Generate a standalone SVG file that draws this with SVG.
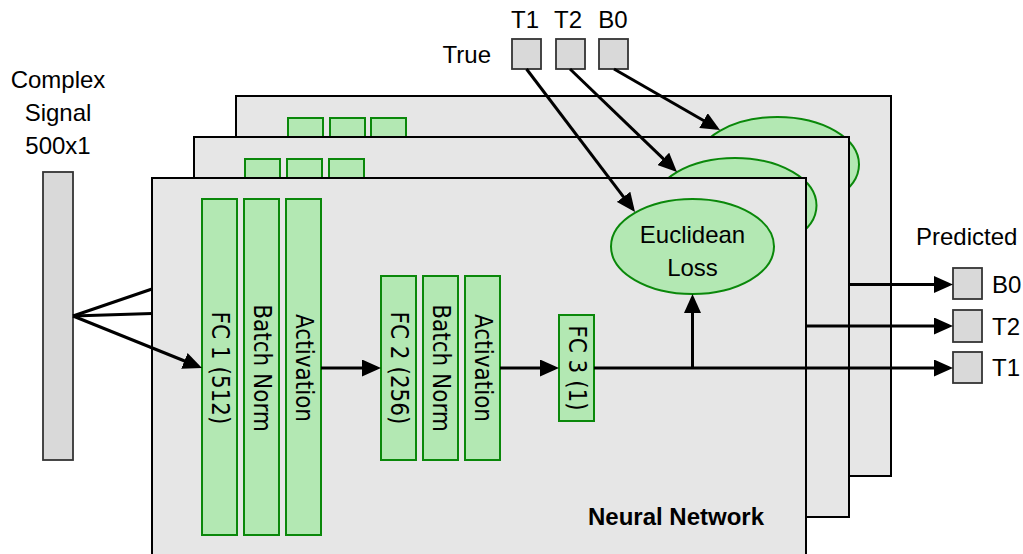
<svg xmlns="http://www.w3.org/2000/svg" width="1023" height="554" viewBox="0 0 1023 554">
<defs>
<style>
.panel{fill:#e6e6e6;stroke:#000;stroke-width:2}
.layer{fill:#b3e8b3;stroke:#0a880a;stroke-width:2}
.loss{fill:#b3e8b3;stroke:#0a880a;stroke-width:2}
.gbox{fill:#d9d9d9;stroke:#333;stroke-width:1.8}
.lbl{font-family:"Liberation Sans",Arial,sans-serif;font-size:24px;fill:#000}
.rot{font-family:"DejaVu Sans Condensed","DejaVu Sans",sans-serif;font-stretch:condensed;font-size:24px;fill:#000}
.bold{font-family:"Liberation Sans",Arial,sans-serif;font-size:24px;font-weight:bold;fill:#000}
.conn{fill:none;stroke:#000;stroke-width:3}
</style>
<marker id="arr" markerUnits="userSpaceOnUse" viewBox="0 0 19 17" markerWidth="19" markerHeight="17" refX="15" refY="8.5" orient="auto">
<path d="M0,0 L19,8.5 L0,17 Z" fill="#000"/>
</marker>
</defs>

<g id="signal">
<rect class="gbox" x="43" y="172" width="30" height="288"/>
<text class="lbl" text-anchor="middle" x="58" y="88">Complex</text>
<text class="lbl" text-anchor="middle" x="58" y="121">Signal</text>
<text class="lbl" text-anchor="middle" x="58" y="154">500x1</text>
</g>

<g id="true-labels">
<text class="lbl" text-anchor="end" x="491" y="63">True</text>
<text class="lbl" text-anchor="middle" x="525" y="28">T1</text>
<text class="lbl" text-anchor="middle" x="568" y="28">T2</text>
<text class="lbl" text-anchor="middle" x="613" y="28">B0</text>
</g>
<g id="true-T1"><rect class="gbox" x="512" y="39" width="29" height="30"/></g>
<g id="true-T2"><rect class="gbox" x="556" y="39" width="29" height="30"/></g>
<g id="true-B0"><rect class="gbox" x="599" y="39" width="29" height="30"/></g>

<g id="network-back">
<rect class="panel" x="236" y="96" width="655" height="380"/>
<rect class="layer" x="288" y="118" width="35" height="336"/>
<rect class="layer" x="330" y="118" width="35" height="336"/>
<rect class="layer" x="371" y="118" width="35" height="336"/>
<ellipse class="loss" cx="777.5" cy="164.5" rx="81.5" ry="47.5"/>
</g>

<g id="network-middle">
<rect class="panel" x="194" y="137" width="655" height="380"/>
<rect class="layer" x="245" y="159" width="35" height="336"/>
<rect class="layer" x="287" y="159" width="35" height="336"/>
<rect class="layer" x="329" y="159" width="35" height="336"/>
<ellipse class="loss" cx="735" cy="205.5" rx="81.5" ry="47.5"/>
</g>

<g id="network-front">
<rect class="panel" x="152" y="178" width="654" height="390"/>
<text class="bold" x="588" y="525">Neural Network</text>
</g>

<g id="fc1">
<rect class="layer" x="202" y="199" width="35" height="336"/>
<text class="rot" text-anchor="middle" dominant-baseline="central" transform="translate(220,368) rotate(90)">FC 1 (512)</text>
</g>
<g id="bn1">
<rect class="layer" x="244" y="199" width="35" height="336"/>
<text class="rot" text-anchor="middle" dominant-baseline="central" transform="translate(262,368) rotate(90)">Batch Norm</text>
</g>
<g id="act1">
<rect class="layer" x="286" y="199" width="35" height="336"/>
<text class="rot" text-anchor="middle" dominant-baseline="central" transform="translate(304,368) rotate(90)">Activation</text>
</g>
<g id="fc2">
<rect class="layer" x="381" y="276" width="35" height="184"/>
<text class="rot" text-anchor="middle" dominant-baseline="central" transform="translate(399,368) rotate(90)">FC 2 (256)</text>
</g>
<g id="bn2">
<rect class="layer" x="423" y="276" width="35" height="184"/>
<text class="rot" text-anchor="middle" dominant-baseline="central" transform="translate(441,368) rotate(90)">Batch Norm</text>
</g>
<g id="act2">
<rect class="layer" x="465" y="276" width="35" height="184"/>
<text class="rot" text-anchor="middle" dominant-baseline="central" transform="translate(483,368) rotate(90)">Activation</text>
</g>
<g id="fc3">
<rect class="layer" x="559" y="315" width="35" height="106"/>
<text class="rot" text-anchor="middle" dominant-baseline="central" transform="translate(577,368) rotate(90)">FC 3 (1)</text>
</g>
<g id="loss">
<ellipse class="loss" cx="692.5" cy="246.5" rx="81.5" ry="47.5"/>
<text class="lbl" text-anchor="middle" x="692.5" y="243">Euclidean</text>
<text class="lbl" text-anchor="middle" x="692.5" y="276">Loss</text>
</g>

<g id="predicted-labels">
<text class="lbl" x="916" y="245">Predicted</text>
<text class="lbl" x="992" y="293">B0</text>
<text class="lbl" x="992" y="335">T2</text>
<text class="lbl" x="992" y="376">T1</text>
</g>
<g id="pred-B0"><rect class="gbox" x="953" y="268" width="29" height="31"/></g>
<g id="pred-T2"><rect class="gbox" x="953" y="310" width="29" height="32"/></g>
<g id="pred-T1"><rect class="gbox" x="953" y="352" width="29" height="31"/></g>

<g id="connectors">
<line class="conn" x1="73" y1="316" x2="152" y2="289"/>
<line class="conn" x1="73" y1="316" x2="152" y2="313.5"/>
<line class="conn" x1="73" y1="316" x2="198.3" y2="366.5" marker-end="url(#arr)"/>
<line class="conn" x1="321" y1="368" x2="377" y2="368" marker-end="url(#arr)"/>
<line class="conn" x1="500" y1="368" x2="555" y2="368" marker-end="url(#arr)"/>
<line class="conn" x1="594" y1="368" x2="949" y2="368" marker-end="url(#arr)"/>
<line class="conn" x1="692.5" y1="368" x2="692.5" y2="298" marker-end="url(#arr)"/>
<line class="conn" x1="806" y1="326" x2="949" y2="326" marker-end="url(#arr)"/>
<line class="conn" x1="849" y1="284.5" x2="949" y2="284.5" marker-end="url(#arr)"/>
<line class="conn" x1="526.5" y1="69" x2="632.6" y2="208.8" marker-end="url(#arr)"/>
<line class="conn" x1="570" y1="69" x2="674.1" y2="169.2" marker-end="url(#arr)"/>
<line class="conn" x1="614" y1="69" x2="716.5" y2="128" marker-end="url(#arr)"/>
</g>
</svg>
